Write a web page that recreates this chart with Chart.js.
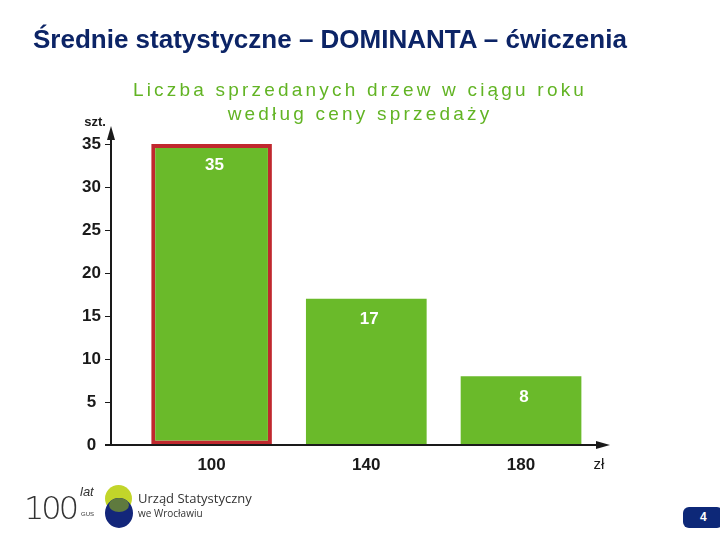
<!DOCTYPE html>
<html>
<head>
<meta charset="utf-8">
<script src="https://cdn.jsdelivr.net/npm/chart.js@4"></script>
<style>
  body { margin: 0; background: #fff; font-family: "Liberation Sans", Arial, sans-serif; }
  #wrap { position: relative; width: 720px; height: 540px; overflow: hidden; }
  #chart { position: absolute; left: 0; top: 0; }
  h1 { position: absolute; left: 33px; top: 24px; margin: 0; font-size: 26px; font-weight: bold; color: #0c2466; white-space: nowrap; }
  .logo { position: absolute; left: 24px; top: 484px; width: 240px; height: 50px; white-space: nowrap; }
  .hundred { position: absolute; left: 0; top: 5px; font-size: 32px; font-weight: 200; letter-spacing: -3px; color: #333; font-family: "DejaVu Sans", sans-serif; }
  .lat { position: absolute; left: 56px; top: 0px; font-size: 13px; font-style: italic; color: #333; }
  .gus { position: absolute; left: 57px; top: 27px; font-size: 6px; color: #333; }
  .c1 { position: absolute; left: 81px; top: 1px; width: 27px; height: 27px; border-radius: 50%; background: #c2d52a; }
  .c2 { position: absolute; left: 81px; top: 14px; width: 28px; height: 30px; border-radius: 50%; background: #13267a; }
  .c3 { position: absolute; left: 85px; top: 14px; width: 20px; height: 14px; border-radius: 50%; background: #5f7a3e; }
  .us { position: absolute; left: 114px; top: 5px; font-size: 13px; color: #333; font-family: "Open Sans", sans-serif; }
  .wr { position: absolute; left: 114px; top: 22px; font-size: 10px; color: #333; font-family: "Open Sans", sans-serif; }
  .page { position: absolute; left: 683px; top: 507px; width: 40px; height: 21px; border-radius: 6px; background: #0d2878; color: #fff; font-size: 12px; font-weight: bold; line-height: 21px; text-indent: 17px; }
</style>
</head>
<body>
<div id="wrap">
  <canvas id="chart" width="720" height="540"></canvas>
  <h1>Średnie statystyczne – DOMINANTA – ćwiczenia</h1>
  <div class="logo">
    <div class="hundred">100</div>
    <div class="lat">lat</div>
    <div class="gus">GUS</div>
    <div class="c1"></div>
    <div class="c2"></div>
    <div class="c3"></div>
    <div class="us">Urząd Statystyczny</div>
    <div class="wr">we Wrocławiu</div>
  </div>
  <div class="page">4</div>
</div>
<script>
const prices = [100, 140, 180];
const counts = [35, 17, 8];
const yTicks = [0, 5, 10, 15, 20, 25, 30, 35];
const titleLines = ['Liczba sprzedanych drzew w ciągu roku', 'według ceny sprzedaży'];
const barColors = ['#6aba2a', '#6aba2a', '#6aba2a'];
const borderColors = ['#c0282e', '#6aba2a', '#6aba2a'];

const textColor = '#1a1a1a';
const green = '#62b424';

// title, axes with arrows, units and value labels
const extras = {
  id: 'extras',
  afterDatasetsDraw(chart) {
    const { ctx, chartArea: a } = chart;
    ctx.save();
    ctx.fillStyle = green;
    ctx.font = '19px "Liberation Sans", Arial';
    ctx.letterSpacing = '3.2px';
    ctx.textAlign = 'center';
    ctx.textBaseline = 'middle';
    titleLines.forEach((t, i) => ctx.fillText(t, 360, 91 + i * 24));
    ctx.letterSpacing = '0px';

    ctx.strokeStyle = textColor;
    ctx.fillStyle = textColor;
    ctx.lineWidth = 2;
    ctx.beginPath();
    ctx.moveTo(a.left, a.bottom);
    ctx.lineTo(a.left, a.top - 12);
    ctx.moveTo(a.left - 6, a.bottom);
    ctx.lineTo(a.right - 8, a.bottom);
    ctx.stroke();
    ctx.beginPath();
    ctx.moveTo(a.left, a.top - 18);
    ctx.lineTo(a.left - 4, a.top - 4);
    ctx.lineTo(a.left + 4, a.top - 4);
    ctx.fill();
    ctx.beginPath();
    ctx.moveTo(a.right, a.bottom);
    ctx.lineTo(a.right - 14, a.bottom - 4);
    ctx.lineTo(a.right - 14, a.bottom + 4);
    ctx.fill();

    ctx.font = 'bold 13px "Liberation Sans", Arial';
    ctx.fillText('szt.', a.left - 16, a.top - 22);
    ctx.font = '15px "Liberation Sans", Arial';
    ctx.fillText('zł', a.right - 11, a.bottom + 20);

    ctx.fillStyle = '#fff';
    ctx.font = 'bold 17px "Liberation Sans", Arial';
    chart.getDatasetMeta(0).data.forEach((bar, i) => {
      ctx.fillText(String(counts[i]), bar.x + 3, bar.y + 21);
    });
    ctx.restore();
  }
};

new Chart(document.getElementById('chart'), {
  type: 'bar',
  data: {
    datasets: [{
      data: prices.map((p, i) => ({ x: p, y: counts[i] })),
      backgroundColor: barColors,
      borderColor: borderColors,
      borderWidth: [4, 0, 0],
      borderSkipped: false,
      barPercentage: 0.78,
      categoryPercentage: 1
    }]
  },
  options: {
    responsive: false,
    animation: false,
    layout: { padding: { left: 61, right: 110, top: 144, bottom: 65 } },
    plugins: {
      legend: { display: false },
      tooltip: { enabled: false },
      title: { display: false }
    },
    scales: {
      x: {
        type: 'linear',
        offset: false,
        min: 74,
        max: 203,
        afterBuildTicks: s => { s.ticks = prices.map(v => ({ value: v })); },
        afterFit: s => { s.height = 30; },
        grid: { display: false, offset: false },
        border: { display: false },
        ticks: {
          color: textColor,
          padding: 2,
          font: { family: '"Liberation Sans", Arial', size: 17, weight: 'bold' }
        }
      },
      y: {
        min: 0,
        max: 35,
        afterBuildTicks: s => { s.ticks = yTicks.map(v => ({ value: v })); },
        afterFit: s => { s.width = 50; },
        grid: { drawOnChartArea: false, drawTicks: true, tickLength: 6, color: textColor, lineWidth: 1 },
        border: { display: false },
        ticks: {
          color: textColor,
          padding: 4,
          crossAlign: 'center',
          font: { family: '"Liberation Sans", Arial', size: 17, weight: 'bold' }
        }
      }
    }
  },
  plugins: [extras]
});
</script>
</body>
</html>
